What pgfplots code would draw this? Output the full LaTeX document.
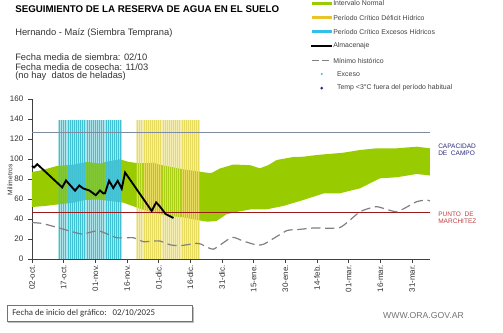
\documentclass[border=0pt]{standalone}
\usepackage{pgfplots}
\pgfplotsset{compat=1.18}
\usepackage{fontspec}
\setmainfont{Liberation Sans}
\newfontfamily\carlito{Carlito}
\definecolor{bandgreen}{HTML}{99CC00}
\definecolor{stripecyan}{HTML}{40C0D0}
\definecolor{stripeyellow}{HTML}{E8DC60}
\definecolor{capline}{HTML}{7F8A9E}
\definecolor{pmline}{HTML}{9A1A1A}
\definecolor{mingray}{HTML}{808080}
\definecolor{txtgray}{HTML}{333333}
\definecolor{leggray}{HTML}{404040}
\definecolor{capnavy}{HTML}{2B2B7F}
\definecolor{pmred}{HTML}{C04040}
\definecolor{legyellow}{HTML}{E8C428}
\definecolor{legcyan}{HTML}{33C0E8}
\begin{document}
\begin{tikzpicture}
\begin{axis}[
  at={(0pt,0pt)}, anchor=south west,
  x=1.5833pt, y=0.75pt,
  xmin=0, xmax=188.5, ymin=0, ymax=160,
  axis x line*=bottom, axis y line*=left,
  axis line style={draw=black!75, line width=0.5pt},
  tick style={draw=black!75, line width=0.5pt},
  tick align=outside, major tick length=3pt,
  xtick={0,15,30,45,60,75,90,105,120,135,150,165,180},
  xticklabels={02-oct.,17-oct.,01-nov.,16-nov.,01-dic.,16-dic.,31-dic.,15-ene.,30-ene.,14-feb.,01-mar.,16-mar.,31-mar.},
  x tick label style={rotate=90, anchor=east, font=\fontsize{6}{7}\selectfont, text=txtgray, inner sep=1.5pt},
  ytick={0,20,40,60,80,100,120,140,160},
  y tick label style={font=\fontsize{6}{7}\selectfont, text=txtgray},
  /pgf/number format/assume math mode=true,
  clip=false,
]
% light tint of the critical periods (behind everything)
\addplot[fill=stripecyan!22, draw=none] coordinates {(12.5,0)(12.5,139)(42.5,139)(42.5,0)} --cycle;
\addplot[fill=stripeyellow!28, draw=none] coordinates {(49.3,0)(49.3,139)(79.6,139)(79.6,0)} --cycle;
% green band: upper boundary left to right, then lower boundary right to left
\addplot[fill=bandgreen, draw=none] coordinates {
(0,87)(5,89)(11.7,93)(20,94.5)(25.9,97)(32.3,95.5)(35.4,97.3)(41.7,99.7)(46,97)(49.6,96)(53,95.8)(57.5,96.3)(61,94)(65.4,92.3)(72,89.5)(79.6,87.3)(82.7,86.3)(85,86)(89,90.5)(95.4,94.5)(103.3,93.8)(108,90.7)(112,94)(115.9,99)(123.8,102)(128.5,102.3)(134.9,104)(147.5,106.3)(155.4,109)(163.3,110.7)(172.8,110.7)(182.2,112.3)(188.5,110.7)
(188.5,83.5)(182.2,85)(172.8,81.7)(164.9,80.7)(155.4,70.7)(145.9,65.7)(138,65.5)(128.5,59)(119,53)(111.2,49.7)(103.3,49.5)(95.4,46.5)(92,44.5)(87.4,38)(83,37.3)(79.6,38.5)(72,41.5)(63.8,43.5)(56.7,46.7)(51,50.5)(43,56.5)(37,58)(31,59.5)(25,59)(20,56.5)(12,54.5)(6,53)(0,52)} --cycle;
% semi-transparent wash over the band
\addplot[fill=stripecyan, fill opacity=0.25, draw=none] coordinates {(12.5,0)(12.5,139)(42.5,139)(42.5,0)} --cycle;
\addplot[fill=stripeyellow, fill opacity=0.25, draw=none] coordinates {(49.3,0)(49.3,139)(79.6,139)(79.6,0)} --cycle;
% excess period stripes
\addplot[ycomb, draw=stripecyan, line width=0.45pt, no markers] coordinates {
(13,139)(14,139)(15,139)(16,139)(17,139)(18,139)(19,139)(20,139)(21,139)(22,139)(23,139)(24,139)(25,139)(26,139)(27,139)(28,139)(29,139)(30,139)(31,139)(32,139)(33,139)(34,139)(35,139)(36,139)(37,139)(38,139)(39,139)(40,139)(41,139)(42,139)};
% deficit period stripes
\addplot[ycomb, draw=stripeyellow, line width=0.45pt, no markers] coordinates {
(50,139)(51,139)(52,139)(53,139)(54,139)(55,139)(56,139)(57,139)(58,139)(59,139)(60,139)(61,139)(62,139)(63,139)(64,139)(65,139)(66,139)(67,139)(68,139)(69,139)(70,139)(71,139)(72,139)(73,139)(74,139)(75,139)(76,139)(77,139)(78,139)(79,139)};
% reference lines
\addplot[capline, line width=0.6pt, no markers] coordinates {(0,127)(188.5,127)};
\addplot[pmline, line width=0.6pt, no markers] coordinates {(0,47)(188.5,47)};
% minimum historico
\addplot[mingray, line width=0.9pt, dash pattern=on 7pt off 3.5pt, no markers, smooth, tension=0.3] coordinates {
(0,36.5)(5,35.5)(12.4,31.3)(23.5,25)(31.4,28.3)(40.1,21.3)(48,21.3)(52.8,17.3)(57.5,18)(60.6,18)(65.4,14.2)(70.1,13.3)(78,15.7)(80,15)(85.9,9.8)(94.6,21.7)(100,18)(106.4,14)(110,15)(120.6,28.3)(125.4,29.3)(133.3,31)(145.9,31.5)(155.4,47.3)(163.3,52.3)(172.8,47.3)(182.2,57.3)(187,59)(188.5,58)};
% almacenaje
\addplot[black, line width=1.4pt, no markers] coordinates {
(0,93)(1,91.5)(2.5,94.8)(14.3,71.6)(16.1,78.5)(20.4,68.3)(22.4,73.5)(24.3,70.5)(27.2,68.5)(30.2,63.8)(32.2,68.5)(33.8,65.5)(34.6,65.8)(36.5,78.3)(38.5,71)(40.6,78.2)(42.5,70.3)(44.1,86.5)(56.7,48)(58.8,56.6)(60.6,52.5)(63.3,45)(67,41)};
\end{axis}
\begin{scope}[x=0.75pt, y=-0.75pt, shift={(-24pt,194.25pt)}]
\path[use as bounding box] (0,0) rectangle (503,332);
% titles
\node[anchor=west, inner sep=0, text=black] at (15,9) {\bfseries\fontsize{7.3}{8}\selectfont SEGUIMIENTO DE LA RESERVA DE AGUA EN EL SUELO};
\node[anchor=west, inner sep=0, text=txtgray] at (15,33.5) {\fontsize{7}{8}\selectfont Hernando - Maíz (Siembra Temprana)};
\node[anchor=west, inner sep=0, text=txtgray] at (15,57) {\fontsize{7}{8}\selectfont Fecha media de siembra: 02/10};
\node[anchor=west, inner sep=0, text=txtgray] at (15,67) {\fontsize{7}{8}\selectfont Fecha media de cosecha: 11/03};
\node[anchor=west, inner sep=0, text=txtgray] at (15,76.5) {\fontsize{7}{8}\selectfont (no hay\ \ datos de heladas)};
% legend
\draw[bandgreen, line width=2.6pt] (312,3.5) -- (332,3.5);
\draw[legyellow, line width=2.6pt] (312,17.5) -- (332,17.5);
\draw[legcyan, line width=2.6pt] (312,31.7) -- (332,31.7);
\draw[black, line width=1.4pt] (311,45.7) -- (332,45.7);
\draw[mingray, line width=0.7pt, dash pattern=on 5pt off 2.5pt] (312,60.7) -- (330,60.7);
\fill[legcyan] (321.7,74) circle (0.9pt);
\fill[capnavy] (321.7,86.6) -- (323.2,88.1) -- (321.7,89.6) -- (320.2,88.1) -- cycle;
\begin{scope}[every node/.style={anchor=west, inner sep=0, text=leggray, font=\fontsize{5.2}{6}\selectfont}]
\node at (333,3.5) {Intervalo Normal};
\node at (333,17.5) {Período Crítico Déficit Hídrico};
\node at (333,31.7) {Período Crítico Excesos Hídricos};
\node at (333,45.7) {Almacenaje};
\node at (333,60.7) {Mínimo histórico};
\node at (333,74) {\ \ Exceso};
\node at (333,88) {\ \ Temp <3°C fuera del período habitual};
\end{scope}
% right labels
\begin{scope}[every node/.style={anchor=west, inner sep=0, font=\fontsize{4.9}{6}\selectfont}]
\node[text=capnavy] at (438,146) {CAPACIDAD};
\node[text=capnavy] at (438,153.5) {DE\ \ CAMPO};
\node[text=pmred] at (438,214) {PUNTO\ \ DE};
\node[text=pmred] at (438,221.7) {MARCHITEZ};
\end{scope}
% y label
\node[rotate=90, inner sep=0, text=txtgray, font=\fontsize{5}{6}\selectfont] at (10,180) {Milímetros};
% bottom box
\fill[black!25] (8.5,306.5) rectangle (193.5,323.2);
\draw[black!55, fill=white, line width=0.6pt] (7,305) rectangle (192,321.7);
\node[anchor=west, inner sep=0, text=txtgray] at (12,313) {\carlito\fontsize{6.6}{8}\selectfont Fecha de inicio del gráfico:\ \ \ 02/10/2025};
\node[inner sep=0, text=black!55] at (423.5,316) {\fontsize{6.5}{8}\selectfont WWW.ORA.GOV.AR};
\end{scope}
\end{tikzpicture}
\end{document}
